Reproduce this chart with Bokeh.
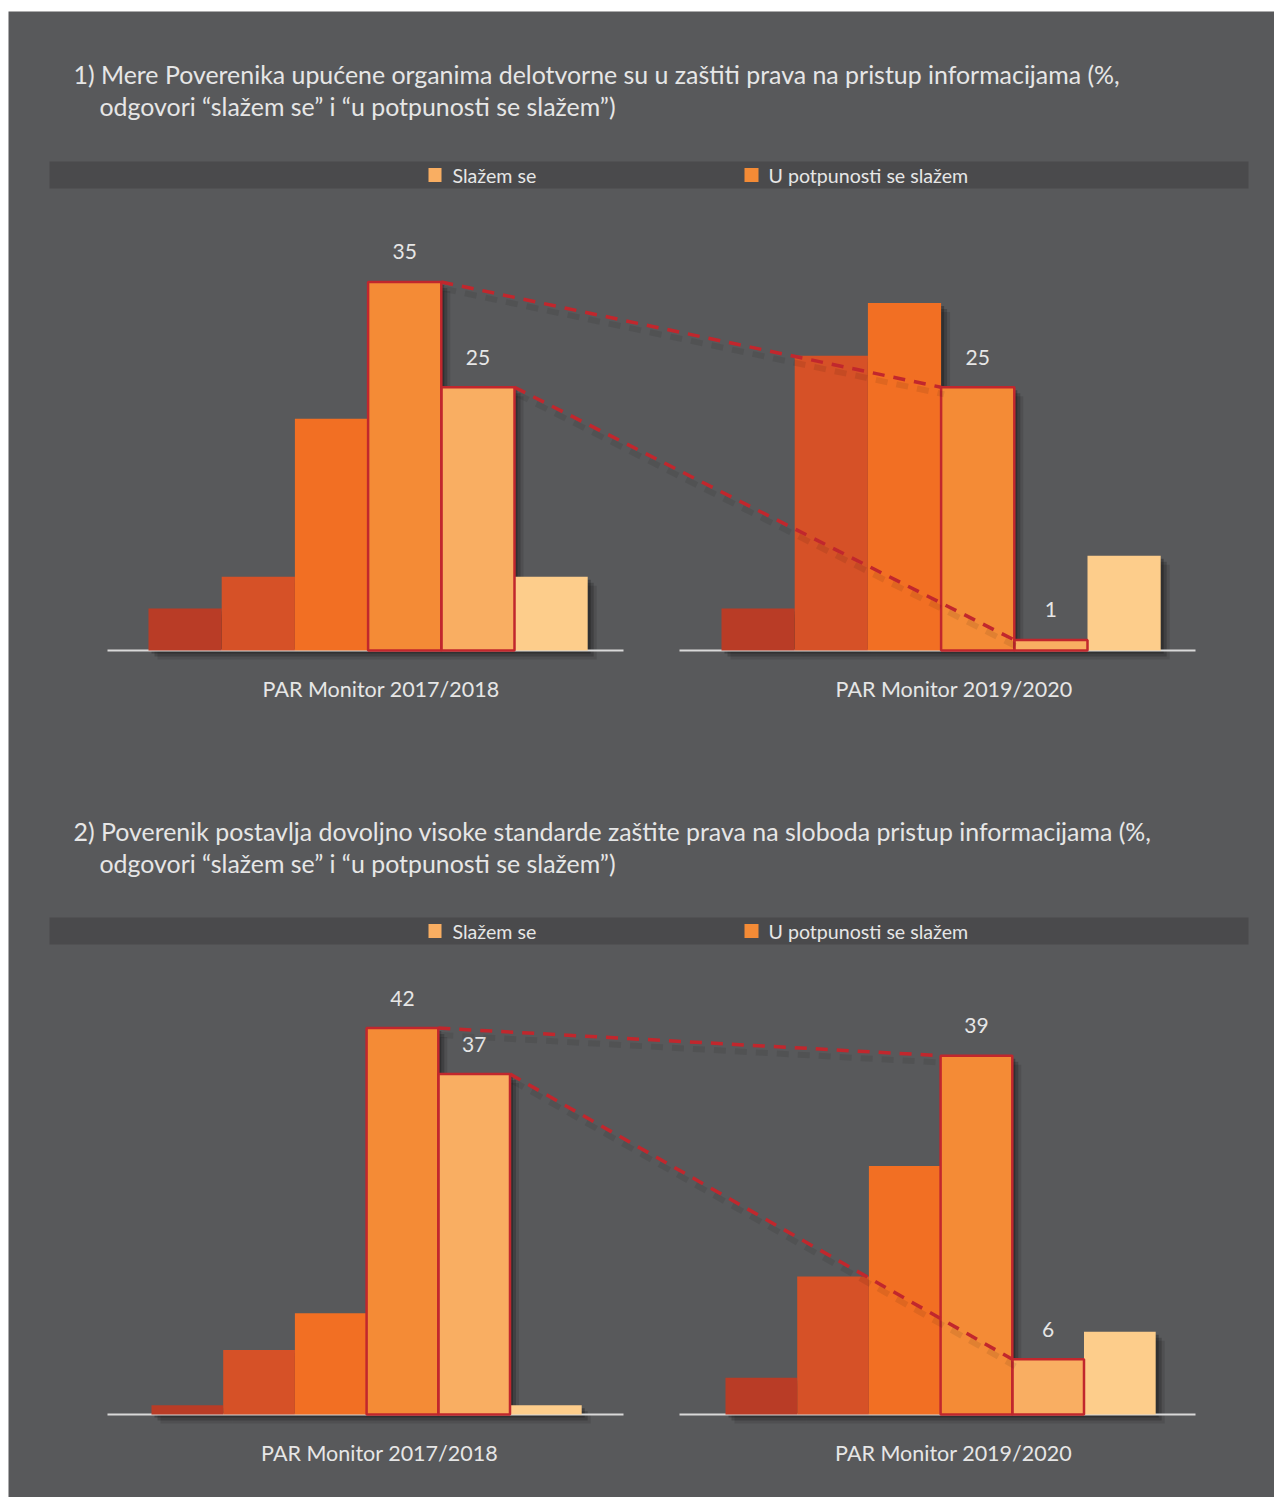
from bokeh.plotting import figure
from bokeh.models import Range1d
from bokeh.embed import file_html
from bokeh.resources import INLINE
from bokeh.core.properties import value

# ---------------- data ----------------
levels = ["1", "2", "3", "4", "5", "6"]
group_labels = ["PAR Monitor 2017/2018", "PAR Monitor 2019/2020"]
q1_2017 = [4, 7, 22, 35, 25, 7]
q1_2019 = [4, 28, 33, 25, 1, 9]
q2_2017 = [1, 7, 11, 42, 37, 1]
q2_2019 = [4, 15, 27, 39, 6, 9]
highlight = [3, 4]
title1 = ["1) Mere Poverenika upućene organima delotvorne su u zaštiti prava na pristup informacijama (%,",
          "odgovori \u201cslažem se\u201d i \u201cu potpunosti se slažem\u201d)"]
title2 = ["2) Poverenik postavlja dovoljno visoke standarde zaštite prava na sloboda pristup informacijama (%,",
          "odgovori \u201cslažem se\u201d i \u201cu potpunosti se slažem\u201d)"]
legend_labels = ["Slažem se", "U potpunosti se slažem"]

# ---------------- style ----------------
BG = "#58595b"
BAND = "#4a4a4c"
TXT = "#e6e6e6"
RED = "#c1272d"
colors = ["#b93c26", "#d65127", "#f26f23", "#f48b36", "#f9ae62", "#fdcd8b"]
legend_colors = ["#f9ae62", "#f48b36"]
FONT = "Lato"

W, H = 1274, 1497
TOP, LEFT = 11, 8
FH = H - TOP

p = figure(width=W, height=H, output_backend="svg", toolbar_location=None,
           x_range=Range1d(LEFT, W), y_range=Range1d(H, TOP),
           min_border_left=LEFT, min_border_top=TOP, min_border_right=0, min_border_bottom=0)
p.axis.visible = False
p.grid.visible = False
p.outline_line_color = None
p.background_fill_color = BG
p.border_fill_color = "white"

panels = [
    dict(name="q1", title=title1, title_y=73, band_y=(161, 188), base_px=650, ppu=10.53,
         data=[q1_2017, q1_2019], lefts=[148, 721], bw=73.2, axis=[(107, 623), (679, 1195)]),
    dict(name="q2", title=title2, title_y=830, band_y=(917, 944), base_px=1414, ppu=9.2,
         data=[q2_2017, q2_2019], lefts=[151, 725], bw=71.7, axis=[(107, 623), (679, 1195)]),
]

ranges = {}
for pn in panels:
    end = (pn["base_px"] - TOP) / pn["ppu"]
    ranges[pn["name"]] = Range1d(end - FH / pn["ppu"], end)
p.extra_y_ranges = ranges

for pn in panels:
    rn = pn["name"]
    ppu = pn["ppu"]
    bw = pn["bw"]
    ty = pn["title_y"]
    # title
    p.text(x=[73, 99], y=[ty, ty + 32], text=pn["title"], text_font=value(FONT),
           text_font_size="24.9px", text_color=TXT, text_baseline="middle", text_align="left")
    # legend band
    b0, b1 = pn["band_y"]
    p.quad(left=[49], right=[1248], top=[b0], bottom=[b1], fill_color=BAND, line_color=None)
    bm = (b0 + b1) / 2
    p.quad(left=[428, 744], right=[441, 758], top=[bm - 7, bm - 7], bottom=[bm + 7, bm + 7],
           fill_color=legend_colors, line_color=None)
    p.text(x=[452, 768], y=[bm, bm], text=legend_labels, text_font=value(FONT),
           text_font_size="19.6px", text_color=TXT, text_baseline="middle", text_align="left")

    groups_geo = []
    for g, vals in enumerate(pn["data"]):
        L = pn["lefts"][g]
        lefts = [L + i * bw for i in range(len(levels))]
        rights = [l + bw for l in lefts]
        groups_geo.append((lefts, rights, vals))
        # shadows
        for off, alpha in [(9, 0.10), (6, 0.18), (3, 0.25)]:
            p.quad(left=[l + off for l in lefts], right=[r + off for r in rights],
                   top=[v - off / ppu for v in vals], bottom=[-off / ppu] * len(vals),
                   fill_color="black", fill_alpha=alpha, line_color=None, y_range_name=rn)
        # baseline
        a0, a1 = pn["axis"][g]
        p.segment(x0=[a0], x1=[a1], y0=[0], y1=[0], line_color="#d9d9d9", line_width=2, y_range_name=rn)
        # bars
        p.quad(left=lefts, right=rights, top=vals, bottom=[0] * len(vals),
               fill_color=colors, line_color=None, y_range_name=rn)
        # highlighted outlines
        p.quad(left=[lefts[i] for i in highlight], right=[rights[i] for i in highlight],
               top=[vals[i] for i in highlight], bottom=[0] * len(highlight),
               fill_color=None, line_color=RED, line_width=2.5, y_range_name=rn)
        # value labels
        p.text(x=[(lefts[i] + rights[i]) / 2 for i in highlight], y=[vals[i] for i in highlight],
               text=[str(vals[i]) for i in highlight], y_offset=-30, text_font=value(FONT),
               text_font_size="21px", text_color=TXT, text_align="center", text_baseline="middle",
               y_range_name=rn)
        # group label
        p.text(x=[lefts[0] + 3 * bw + 13], y=[0], text=[group_labels[g]], y_offset=38,
               text_font=value(FONT), text_font_size="21.5px", text_color=TXT,
               text_align="center", text_baseline="middle", y_range_name=rn)

    # dashed connectors between the two surveys
    (l1, r1, v1), (l2, r2, v2) = groups_geo
    for i in highlight:
        p.segment(x0=[r1[i] + 3], y0=[v1[i] - 7 / ppu], x1=[l2[i] + 3], y1=[v2[i] - 7 / ppu],
                  line_color="black", line_alpha=0.08, line_width=6, line_dash="12 9", y_range_name=rn)
        p.segment(x0=[r1[i]], y0=[v1[i]], x1=[l2[i]], y1=[v2[i]],
                  line_color=RED, line_width=3.5, line_dash="12 9", y_range_name=rn)

open("out.html", "w").write(file_html(p, INLINE))
